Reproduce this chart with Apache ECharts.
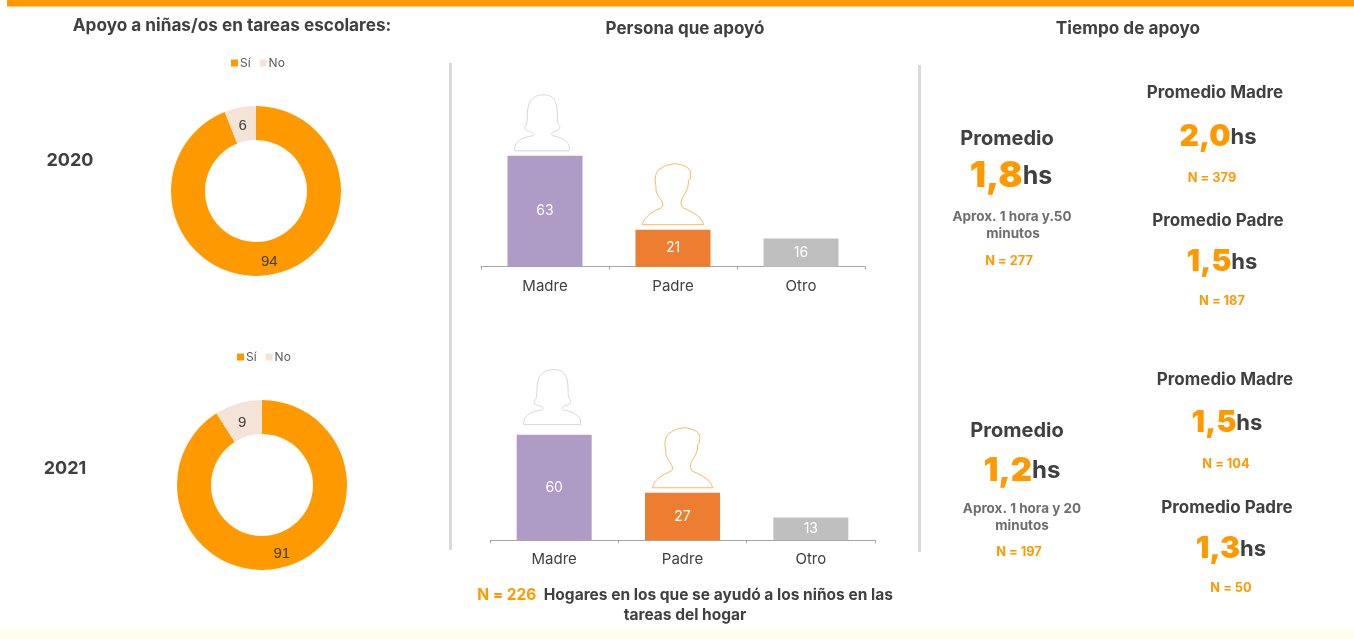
<!DOCTYPE html>
<html><head><meta charset="utf-8">
<style>html,body{margin:0;padding:0;background:#fff}#c{width:1354px;height:639px}</style>
<script src="https://cdn.jsdelivr.net/npm/echarts@6/dist/echarts.min.js"></script>
</head><body><div id="c"></div>
<script>
const responseNames = ['Sí', 'No'];
const support2020 = [94, 6];
const support2021 = [91, 9];
const helperNames = ['Madre', 'Padre', 'Otro'];
const helpers2020 = [63, 21, 16];
const helpers2021 = [60, 27, 13];

const FONT = 'Inter, "Open Sans", sans-serif';
const ORANGE = '#FF9900', PALE = '#F4E3D7', DARK = '#404040';
const barColors = ['#AE9BC6', '#ED7D31', '#BFBFBF'];
const WOMAN = 'path://M2,167 C-2,145 15,128 55,122 C60,120 58,112 42,108 C30,105 30,98 36,90 C42,75 36,50 45,25 C55,5 70,0 88,0 C105,0 118,5 125,28 C132,55 125,75 132,88 C138,97 140,105 120,109 C112,112 108,118 115,122 C150,128 168,145 164,167 Z';
const MAN = 'path://M2,180 C4,165 20,145 58,130 C66,125 62,112 52,100 C46,90 40,82 42,68 C38,50 38,30 50,18 C60,12 70,2 100,0 C118,2 140,8 145,25 C142,35 148,45 138,50 C140,70 130,85 122,98 C116,108 114,122 122,130 C160,145 180,162 183,180 Z';

function pie(data, center, noOffset) {
  return {
    type: 'pie', center, radius: [51, 85], startAngle: 90, clockwise: true, silent: true,
    data: responseNames.map((n, i) => ({ name: n, value: data[i], itemStyle: { color: i ? PALE : ORANGE },
      label: { offset: i ? noOffset : [0, 1] } })),
    label: { position: 'inside', formatter: '{c}', color: DARK, fontSize: 15, fontFamily: '"Liberation Sans", Arial, sans-serif' },
    labelLine: { show: false }
  };
}
function legend(left, top) {
  return { left, top, data: responseNames, icon: 'rect', itemWidth: 7, itemHeight: 7, itemGap: 9, selectedMode: false,
    textStyle: { color: '#595959', fontSize: 12, fontFamily: FONT, padding: [0, 0, 0, -3] } };
}
function bars(values, xi, yi) {
  return {
    type: 'bar', xAxisIndex: xi, yAxisIndex: yi, barWidth: 75, silent: true, z: 2,
    data: values.map((v, i) => ({ value: v, itemStyle: { color: barColors[i] } })),
    label: { show: true, position: 'inside', color: '#fff', fontSize: 14, fontFamily: FONT }
  };
}
function figure(values, xi, yi, wo, mo) {
  return {
    type: 'pictorialBar', xAxisIndex: xi, yAxisIndex: yi, symbolPosition: 'end', silent: true, z: 3,
    barGap: '-100%',
    data: [
      { value: values[0], symbol: WOMAN, symbolSize: wo.size, symbolOffset: wo.offset,
        itemStyle: { color: '#fff', borderColor: '#CFCDDB', borderWidth: 6 } },
      { value: values[1], symbol: MAN, symbolSize: mo.size, symbolOffset: mo.offset,
        itemStyle: { color: '#fff', borderColor: '#F2B04F', borderWidth: 6 } }
    ]
  };
}
function xAxis(gridIndex) {
  return { type: 'category', gridIndex, data: helperNames, boundaryGap: true,
    axisLine: { lineStyle: { color: '#A6A6A6', width: 1 } },
    axisTick: { show: true, length: 3, alignWithLabel: false, lineStyle: { color: '#A6A6A6' } },
    axisLabel: { color: DARK, fontSize: 15, fontFamily: FONT, margin: 12 } };
}
function yAxis(gridIndex) { return { type: 'value', gridIndex, min: 0, max: 100, show: false }; }

function t(x, y, text, size, color, weight) {
  return { type: 'text', x, y, silent: true, style: { text, fill: color, fontSize: size, fontWeight: weight || 'bold', fontFamily: FONT,
    align: 'center', verticalAlign: 'middle' } };
}
function hs(x, y, num, big, small) {
  return { type: 'text', x, y, silent: true, style: {
    text: '{a|' + num + '}{b|hs}', align: 'center', verticalAlign: 'middle', fontFamily: FONT,
    rich: { a: { fontSize: big, fontWeight: 900, fill: ORANGE, fontFamily: FONT }, b: { fontSize: small, fontWeight: 'bold', fill: DARK, fontFamily: FONT } } } };
}
function rect(x, y, w, h, fill) { return { type: 'rect', silent: true, z: -1, shape: { x, y, width: w, height: h }, style: { fill } }; }

const graphics = [
  rect(7, 0, 1347, 6.5, ORANGE),
  rect(0, 628, 1354, 11, '#FFFDEE'),
  rect(449, 63, 3, 487, '#D9D9D9'),
  rect(918, 65, 3, 487, '#D9D9D9'),
  t(232, 26, 'Apoyo a niñas/os en tareas escolares:', 17.2, DARK),
  t(685, 28.5, 'Persona que apoyó', 17, DARK),
  t(1128, 28.5, 'Tiempo de apoyo', 17.2, DARK),
  t(70, 161, '2020', 18, DARK),
  t(65, 469, '2021', 18, DARK),

  t(1007, 138.5, 'Promedio', 20, DARK),
  hs(1011, 176, '1,8', 36, 25),
  t(1012, 217, 'Aprox. 1 hora y.50', 13.5, '#6E6E6E'),
  t(1013, 234, 'minutos', 13.5, '#6E6E6E'),
  t(1009, 261, 'N = 277', 12.8, ORANGE),
  t(1215, 92.5, 'Promedio Madre', 17, DARK),
  hs(1218, 137, '2,0', 30, 22),
  t(1212, 178, 'N = 379', 12.8, ORANGE),
  t(1218, 220.5, 'Promedio Padre', 17, DARK),
  hs(1222, 262, '1,5', 30, 22),
  t(1222, 301, 'N = 187', 12.8, ORANGE),

  t(1017, 430.5, 'Promedio', 20, DARK),
  hs(1022, 471, '1,2', 33, 24),
  t(1022, 509, 'Aprox. 1 hora y 20', 13.5, '#6E6E6E'),
  t(1022, 526, 'minutos', 13.5, '#6E6E6E'),
  t(1019, 552, 'N = 197', 12.8, ORANGE),
  t(1225, 379.5, 'Promedio Madre', 17, DARK),
  hs(1227, 423, '1,5', 30, 22),
  t(1226, 464, 'N = 104', 12.8, ORANGE),
  t(1227, 507.5, 'Promedio Padre', 17, DARK),
  hs(1231, 549, '1,3', 30, 22),
  t(1231, 588, 'N = 50', 12.8, ORANGE),

  { type: 'text', x: 685, y: 595, silent: true, style: {
    text: '{a|N = 226}{b|  Hogares en los que se ayudó a los niños en las}', align: 'center', verticalAlign: 'middle', fontFamily: FONT,
    rich: { a: { fontSize: 15.5, fontWeight: 'bold', fill: ORANGE, fontFamily: FONT }, b: { fontSize: 15.5, fontWeight: 'bold', fill: DARK, fontFamily: FONT } } } },
  t(685, 615, 'tareas del hogar', 15.5, DARK)
];

const chart = echarts.init(document.getElementById('c'), null, { renderer: 'canvas' });
chart.setOption({
  animation: false,
  backgroundColor: '#fff',
  tooltip: { show: false },
  legend: [legend(226, 52), legend(232, 346)],
  grid: [
    { left: 481, width: 384, top: 90.7, height: 176 },
    { left: 490, width: 385, top: 364.3, height: 176 }
  ],
  xAxis: [xAxis(0), xAxis(1)],
  yAxis: [yAxis(0), yAxis(1)],
  series: [
    pie(support2020, [256, 191], [0, 5]),
    pie(support2021, [262, 485], [0, 6]),
    bars(helpers2020, 0, 0),
    bars(helpers2021, 1, 1),
    figure(helpers2020, 0, 0, { size: [55, 56], offset: [-3, -64] }, { size: [61, 61], offset: [0, -69] }),
    figure(helpers2021, 1, 1, { size: [57, 55], offset: [-2, -68] }, { size: [60, 60], offset: [0, -68] })
  ],
  graphic: graphics
});
</script></body></html>
